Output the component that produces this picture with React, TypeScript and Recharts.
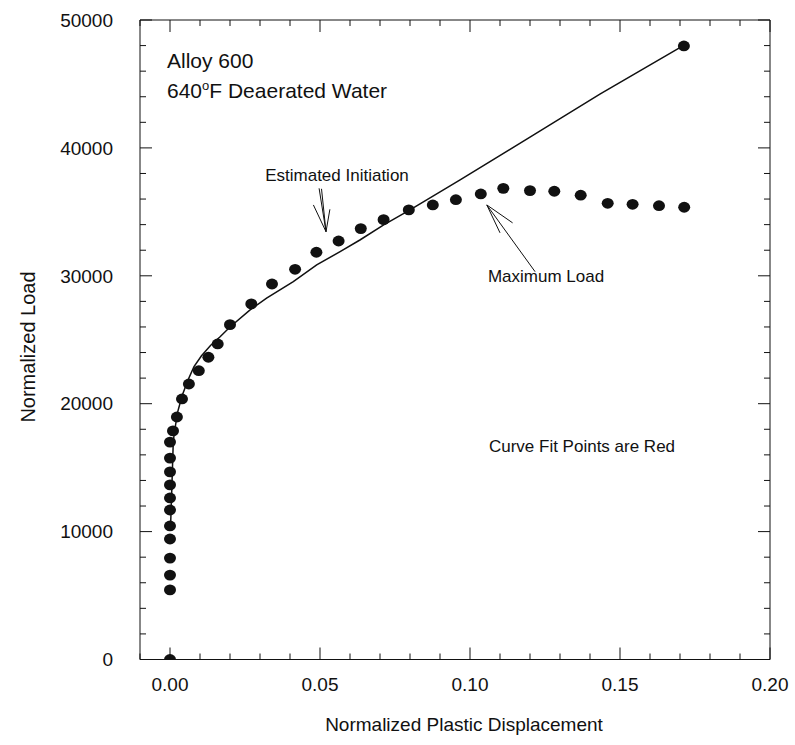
import React from 'react'
import { ScatterChart, Scatter, XAxis, YAxis, ReferenceLine } from 'recharts'

// measured test points (normalized plastic displacement, normalized load)
const testDisp = [
  0, 0, 0, 0, 0, 0, 0, 0, 0, 0, 0, 0,
  0.001, 0.0023, 0.004, 0.0063, 0.0096, 0.0128, 0.0159, 0.02, 0.0271, 0.034, 0.0417, 0.0488,
  0.0562, 0.0636, 0.0712, 0.0796, 0.0876, 0.0953, 0.1036, 0.1111, 0.12, 0.1281, 0.1369,
  0.1459, 0.1542, 0.163, 0.1714, 0.1713,
]
const testLoad = [
  0, 5440, 6600, 7930, 9420, 10440, 11690, 12630, 13650, 14670, 15750, 17000,
  17870, 18960, 20370, 21540, 22580, 23630, 24670, 26180, 27800, 29360, 30510, 31840,
  32720, 33690, 34390, 35150, 35540, 35950, 36400, 36840, 36660, 36610, 36300,
  35670, 35590, 35480, 35360, 47970,
]

// curve fit
const fitDisp = [
  0.0002, 0.0006, 0.0011, 0.0017, 0.0025, 0.004, 0.006, 0.008, 0.0105, 0.0135, 0.0167, 0.02,
  0.0267, 0.0322, 0.0411, 0.0489, 0.0567, 0.0633, 0.0711, 0.08, 0.0967, 0.12, 0.1433, 0.1711,
]
const fitLoad = [
  10500, 13300, 17100, 18100, 19300, 20600, 21850, 22900, 23750, 24550, 25230, 26000,
  27330, 28250, 29540, 30850, 31890, 32800, 33970, 35150, 37500, 40850, 44200, 48000,
]

const xMajorTicks = [0, 0.05, 0.1, 0.15, 0.2]
const xMinorTicks = [
  -0.01, 0, 0.01, 0.02, 0.03, 0.04, 0.05, 0.06, 0.07, 0.08, 0.09, 0.1,
  0.11, 0.12, 0.13, 0.14, 0.15, 0.16, 0.17, 0.18, 0.19, 0.2,
]
const yMajorTicks = [0, 10000, 20000, 30000, 40000, 50000]
const yMinorTicks = [
  0, 2000, 4000, 6000, 8000, 10000, 12000, 14000, 16000, 18000, 20000, 22000, 24000,
  26000, 28000, 30000, 32000, 34000, 36000, 38000, 40000, 42000, 44000, 46000, 48000, 50000,
]

const testPoints = testDisp.map((x, i) => ({ x, y: testLoad[i] }))
const fitPoints = fitDisp.map((x, i) => ({ x, y: fitLoad[i] }))

const INK = '#111'
const FONT = 'Arial, "Liberation Sans", Helvetica, sans-serif'
const X_DOMAIN: [number, number] = [-0.01, 0.2]
const Y_DOMAIN: [number, number] = [0, 50000]
const MAJOR = 12
const MINOR = 6

const W = 795
const H = 745
const MARGIN = { top: 19, right: 24, bottom: 25.5, left: 20 }
const X_AXIS_H = 60
const Y_AXIS_W = 120
const PLOT_LEFT = MARGIN.left + Y_AXIS_W
const PLOT_RIGHT = W - MARGIN.right - 1
const PLOT_TOP = MARGIN.top + 1
const PLOT_BOTTOM = H - MARGIN.bottom - X_AXIS_H
const X_PER_PX = (X_DOMAIN[1] - X_DOMAIN[0]) / (PLOT_RIGHT - PLOT_LEFT)
const Y_PER_PX = (Y_DOMAIN[1] - Y_DOMAIN[0]) / (PLOT_BOTTOM - PLOT_TOP)

const isMajor = (v: number, majors: number[]) => majors.some(m => Math.abs(m - v) < 1e-9)

// labels only on the main axes
function BottomLabel({ x, payload }: any) {
  if (!isMajor(payload.value, xMajorTicks)) return <g />
  return (
    <text x={x} y={PLOT_BOTTOM + 18} dy="0.71em" textAnchor="middle" fontSize={19} fontFamily={FONT} fill={INK}>
      {payload.value.toFixed(2)}
    </text>
  )
}

function LeftLabel({ y, payload }: any) {
  if (!isMajor(payload.value, yMajorTicks)) return <g />
  return (
    <text x={PLOT_LEFT - 27} y={y} dy="0.355em" textAnchor="end" fontSize={19} fontFamily={FONT} fill={INK}>
      {payload.value}
    </text>
  )
}

function TopTick({ x, payload }: any) {
  const len = isMajor(payload.value, xMajorTicks) ? MAJOR : MINOR
  return <line x1={x} y1={PLOT_TOP} x2={x} y2={PLOT_TOP + len} stroke={INK} />
}

function RightTick({ y, payload }: any) {
  const len = isMajor(payload.value, yMajorTicks) ? MAJOR : MINOR
  return <line x1={PLOT_RIGHT} y1={y} x2={PLOT_RIGHT - len} y2={y} stroke={INK} />
}

// inward ticks for the bottom and left edges, laid over the chart
function FrameTicks() {
  return (
    <svg width={W} height={H} style={{ position: 'absolute', left: 0, top: 0, pointerEvents: 'none' }}>
      {xMinorTicks.map(v => {
        const px = PLOT_LEFT + (v - X_DOMAIN[0]) / X_PER_PX
        const len = isMajor(v, xMajorTicks) ? MAJOR : MINOR
        return <line key={`b${v}`} x1={px} y1={PLOT_BOTTOM} x2={px} y2={PLOT_BOTTOM - len} stroke={INK} />
      })}
      {yMinorTicks.map(v => {
        const py = PLOT_BOTTOM - (v - Y_DOMAIN[0]) / Y_PER_PX
        const len = isMajor(v, yMajorTicks) ? MAJOR : MINOR
        return <line key={`l${v}`} x1={PLOT_LEFT} y1={py} x2={PLOT_LEFT + len} y2={py} stroke={INK} />
      })}
    </svg>
  )
}

function Note({ x, top, size, children, center }: { x: number; top: number; size: number; children: React.ReactNode; center?: boolean }) {
  return (
    <div
      style={{
        position: 'absolute', left: x, top, fontSize: size, lineHeight: 1, whiteSpace: 'nowrap',
        color: INK, transform: center ? 'translateX(-50%)' : undefined,
      }}
    >
      {children}
    </div>
  )
}

export default function App() {
  const axisCommon = {
    type: 'number' as const, allowDataOverflow: true, interval: 0 as const,
    tickSize: 0, tickMargin: 0, tickLine: false, axisLine: { stroke: INK },
  }
  return (
    <div style={{ position: 'absolute', left: 0, top: 0, width: W, height: H, background: '#fff', fontFamily: FONT }}>
      <ScatterChart width={W} height={H} margin={MARGIN}>
        <XAxis xAxisId="main" dataKey="x" domain={X_DOMAIN} ticks={xMinorTicks} height={X_AXIS_H} tick={<BottomLabel />} {...axisCommon} />
        <XAxis xAxisId="top" orientation="top" dataKey="x" domain={X_DOMAIN} ticks={xMinorTicks} height={1} tick={<TopTick />} {...axisCommon} />
        <YAxis yAxisId="main" dataKey="y" domain={Y_DOMAIN} ticks={yMinorTicks} width={Y_AXIS_W} tick={<LeftLabel />} {...axisCommon} />
        <YAxis yAxisId="right" orientation="right" dataKey="y" domain={Y_DOMAIN} ticks={yMinorTicks} width={1} tick={<RightTick />} {...axisCommon} />

        <Scatter xAxisId="main" yAxisId="main" data={fitPoints} line={{ stroke: INK, strokeWidth: 1.5 }}
          lineType="joint" shape={() => <g />} isAnimationActive={false} />
        <Scatter xAxisId="main" yAxisId="main" data={testPoints} isAnimationActive={false}
          shape={(p: any) => <ellipse cx={p.cx} cy={p.cy} rx={6} ry={5.4} fill={INK} />} />

        {/* Estimated Initiation arrow */}
        <ReferenceLine xAxisId="main" yAxisId="main" segment={[{ x: 0.0497, y: 36840 }, { x: 0.052, y: 33450 }]} stroke={INK} />
        <ReferenceLine xAxisId="main" yAxisId="main" segment={[{ x: 0.0505, y: 36800 }, { x: 0.052, y: 33450 }]} stroke={INK} />
        <ReferenceLine xAxisId="main" yAxisId="main" segment={[{ x: 0.0478, y: 35540 }, { x: 0.052, y: 33450 }]} stroke={INK} />
        <ReferenceLine xAxisId="main" yAxisId="main" segment={[{ x: 0.0533, y: 35200 }, { x: 0.052, y: 33450 }]} stroke={INK} />
        {/* Maximum Load arrow */}
        <ReferenceLine xAxisId="main" yAxisId="main" segment={[{ x: 0.1217, y: 30320 }, { x: 0.1056, y: 35540 }]} stroke={INK} />
        <ReferenceLine xAxisId="main" yAxisId="main" segment={[{ x: 0.11, y: 33360 }, { x: 0.1056, y: 35540 }]} stroke={INK} />
        <ReferenceLine xAxisId="main" yAxisId="main" segment={[{ x: 0.1142, y: 34140 }, { x: 0.1056, y: 35540 }]} stroke={INK} />
      </ScatterChart>
      <FrameTicks />

      <Note x={167} top={50} size={21}>Alloy 600</Note>
      <Note x={167} top={80} size={21}>
        640<span style={{ fontSize: 13, position: 'relative', top: -8 }}>o</span>F Deaerated Water
      </Note>
      <Note x={337} top={167} size={17} center>Estimated Initiation</Note>
      <Note x={546} top={268} size={17} center>Maximum Load</Note>
      <Note x={582} top={438} size={17} center>Curve Fit Points are Red</Note>
      <Note x={464} top={715} size={19} center>Normalized Plastic Displacement</Note>
      <div
        style={{
          position: 'absolute', left: 28, top: 347, fontSize: 20, lineHeight: 1, whiteSpace: 'nowrap', color: INK,
          transform: 'translate(-50%, -50%) rotate(-90deg)',
        }}
      >
        Normalized Load
      </div>
    </div>
  )
}
